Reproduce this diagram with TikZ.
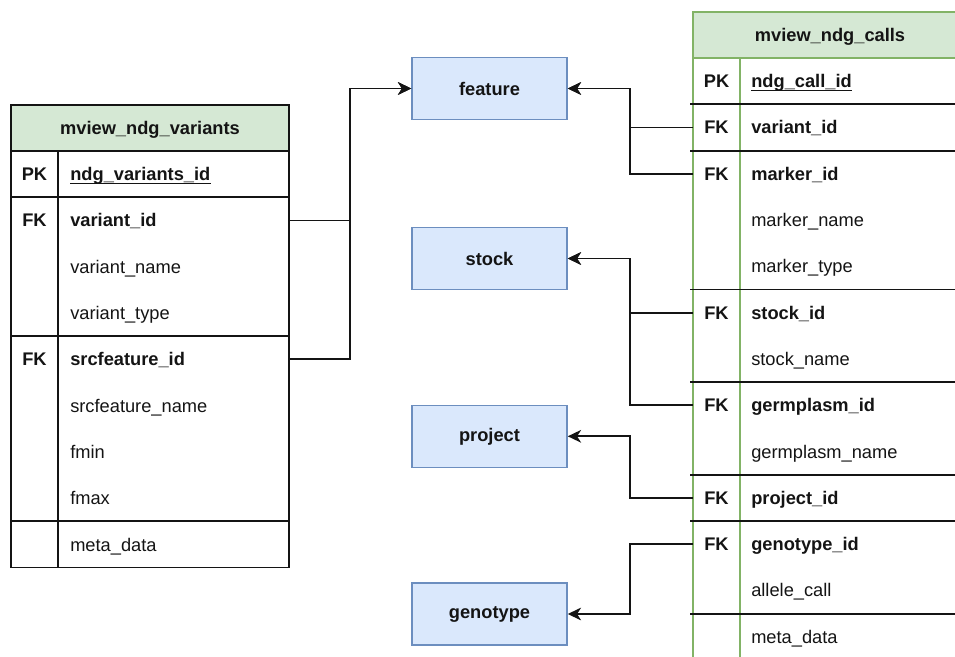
\documentclass[tikz,border=0pt]{standalone}
\usepackage{fontspec}
\setmainfont{Liberation Sans}
\usetikzlibrary{arrows.meta}
\definecolor{hdrfill}{HTML}{D5E8D4}
\definecolor{hdrline}{HTML}{82B366}
\definecolor{entfill}{HTML}{DAE8FC}
\definecolor{entline}{HTML}{6C8EBF}
\definecolor{ink}{HTML}{141414}

\begin{document}
\begin{tikzpicture}[x=0.75pt,y=-0.75pt,
  font=\fontsize{13.7}{16}\selectfont,
  tbl/.style={draw=ink, line width=1.4pt},
  gtbl/.style={draw=hdrline, line width=1.4pt},
  keyt/.style={font=\fontsize{13.7}{16}\selectfont\bfseries, inner sep=0, anchor=base, text=ink},
  fld/.style={inner sep=0, anchor=base west, text=ink},
  fldb/.style={fld, font=\fontsize{13.7}{16}\selectfont\bfseries},
  ttl/.style={inner sep=0, anchor=base, text=ink, font=\fontsize{13.7}{16}\selectfont\bfseries},
  rowhit/.style={inner sep=0, minimum height=34pt},
  entity/.style={draw=entline, fill=entfill, line width=1.1pt, minimum width=116.25pt,
    minimum height=46.5pt, font=\fontsize{13.7}{16}\selectfont\bfseries, text=ink},
  link/.style={draw=ink, line width=1.4pt},
  arr/.style={link, -{Stealth[length=10pt,width=9.5pt,inset=3pt]}}]

\clip (0,0) rectangle (955,656);

% ---------- table mview_ndg_variants ----------
\fill[hdrfill] (11,105) rectangle (289,151);
\draw[tbl] (11,105) rectangle (289,567.5);
\draw[tbl] (11,151) -- (289,151);
\draw[tbl] (58,151) -- (58,567.5);
\foreach \yy in {197.3,336.2,520.8} \draw[tbl] (11,\yy) -- (289,\yy);
\node[ttl] (lt) at (150,134.5) {mview\_ndg\_variants};

\node[keyt] (lk1) at (34.5,180.65) {PK};
\node[fldb] (lpk) at (70,180.65) {ndg\_variants\_id};
\draw[ink, line width=0.9pt] ([yshift=-2.3pt]lpk.base west) -- ([yshift=-2.3pt]lpk.base east);
\node[keyt] (lk2) at (34.5,226.95) {FK};
\node[fldb] (lf1) at (70,226.95) {variant\_id};
\node[fld]  (lf2) at (70,273.25) {variant\_name};
\node[fld]  (lf3) at (70,319.55) {variant\_type};
\node[keyt] (lk3) at (34.5,365.85) {FK};
\node[fldb] (lf4) at (70,365.85) {srcfeature\_id};
\node[fld]  (lf5) at (70,412.15) {srcfeature\_name};
\node[fld]  (lf6) at (70,458.45) {fmin};
\node[fld]  (lf7) at (70,504.75) {fmax};
\node[fld]  (lf8) at (70,551.05) {meta\_data};

\node[rowhit, minimum width=208.5pt] (lvar) at (150,220.45) {};
\node[rowhit, minimum width=208.5pt] (lsrc) at (150,359.35) {};

% ---------- table mview_ndg_calls ----------
\fill[hdrfill] (693,12) rectangle (967,58);
\draw[gtbl] (693,12) rectangle (967,680);
\draw[gtbl] (693,58) -- (967,58);
\draw[gtbl] (740,58) -- (740,680);
\foreach \yy in {104.3,150.6,289.5,382.1,474.7,521,613.6} \draw[tbl] (690,\yy) -- (967,\yy);
\node[ttl] (rt) at (830,41.5) {mview\_ndg\_calls};

\node[keyt] at (716.5,87.65) {PK};
\node[fldb] (rpk) at (751,87.65) {ndg\_call\_id};
\draw[ink, line width=0.9pt] ([yshift=-2.3pt]rpk.base west) -- ([yshift=-2.3pt]rpk.base east);
\node[keyt] at (716.5,133.95) {FK};
\node[fldb] at (751,133.95) {variant\_id};
\node[keyt] at (716.5,180.25) {FK};
\node[fldb] at (751,180.25) {marker\_id};
\node[fld]  at (751,226.55) {marker\_name};
\node[fld]  at (751,272.85) {marker\_type};
\node[keyt] at (716.5,319.15) {FK};
\node[fldb] at (751,319.15) {stock\_id};
\node[fld]  at (751,365.45) {stock\_name};
\node[keyt] at (716.5,411.75) {FK};
\node[fldb] at (751,411.75) {germplasm\_id};
\node[fld]  at (751,458.05) {germplasm\_name};
\node[keyt] at (716.5,504.35) {FK};
\node[fldb] at (751,504.35) {project\_id};
\node[keyt] at (716.5,550.65) {FK};
\node[fldb] at (751,550.65) {genotype\_id};
\node[fld]  at (751,596.95) {allele\_call};
\node[fld]  at (751,643.25) {meta\_data};

\node[rowhit, minimum width=205.5pt] (rvar)  at (830,127.45) {};
\node[rowhit, minimum width=205.5pt] (rmark) at (830,173.75) {};
\node[rowhit, minimum width=205.5pt] (rstk)  at (830,312.65) {};
\node[rowhit, minimum width=205.5pt] (rgerm) at (830,405.25) {};
\node[rowhit, minimum width=205.5pt] (rproj) at (830,497.85) {};
\node[rowhit, minimum width=205.5pt] (rgeno) at (830,544.15) {};

% ---------- referenced entities ----------
\node[entity] (feature)  at (489.5,88.5)  {feature};
\node[entity] (stock)    at (489.5,258.5) {stock};
\node[entity] (project)  at (489.5,436.3) {project};
\node[entity] (genotype) at (489.5,614)   {genotype};

% ---------- foreign key links ----------
\draw[arr] (lvar.east) -- ++(61,0) |- (feature.west);
\draw[arr] (lsrc.east) -- ++(61,0) |- (feature.west);
\draw[arr] (rvar.west) -- ++(-63,0) |- (feature.east);
\draw[arr] (rmark.west) -- ++(-63,0) |- (feature.east);
\draw[arr] (rstk.west) -- ++(-63,0) |- (stock.east);
\draw[arr] (rgerm.west) -- ++(-63,0) |- (stock.east);
\draw[arr] (rproj.west) -- ++(-63,0) |- (project.east);
\draw[arr] (rgeno.west) -- ++(-63,0) |- (genotype.east);
\end{tikzpicture}
\end{document}
